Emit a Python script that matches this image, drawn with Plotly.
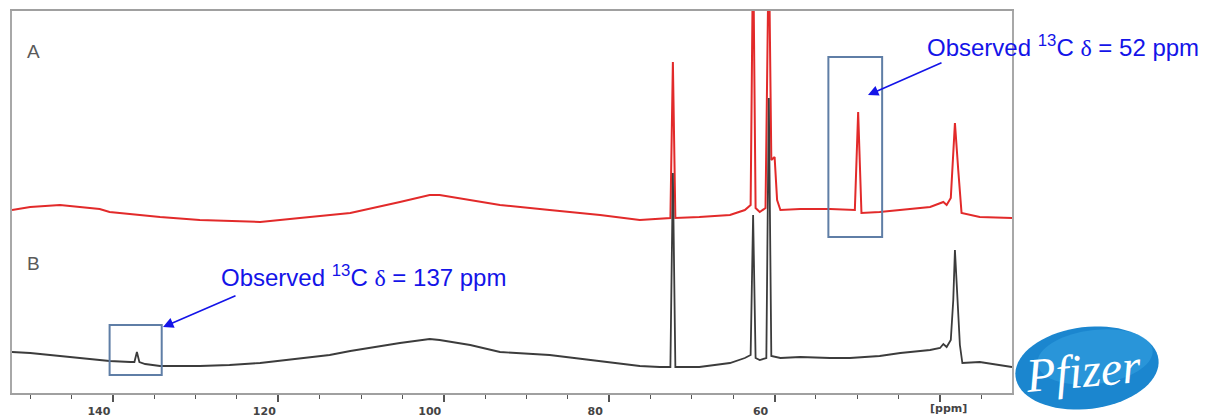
import math
import plotly.graph_objects as go

# ---------------- data ----------------
# Spectrum A (red): chemical shift (ppm) and intensity (arbitrary units)
ppm_a = [152.2, 150.0, 146.4, 141.6, 140.4, 134.3, 129.5, 122.2, 117.4, 111.3,
         105.3, 101.7, 100.5, 96.8, 93.2, 87.2, 81.1, 76.3, 73.9, 72.6,
         72.3, 72.0, 69.1, 65.4, 63.6, 62.9, 62.6, 62.3, 61.8, 61.1,
         60.7, 60.4, 60.0, 59.7, 59.3, 56.9, 53.3, 50.9, 50.3, 49.9,
         49.5, 47.3, 44.8, 41.2, 39.6, 39.2, 38.7, 38.2, 37.8, 37.4,
         35.2, 31.3]
int_a = [13, 16, 18, 14, 11, 6, 3, 1, 5, 10,
         21, 28, 28, 23, 18, 13, 8, 3, 4, 5,
         161, 5, 6, 8, 13, 18, 283, 15, 11, 15,
         283, 63, 66, 23, 13, 14, 14, 13, 13, 111,
         10, 11, 13, 16, 21, 18, 25, 100, 53, 10,
         6, 5]

# Spectrum B (black): chemical shift (ppm) and intensity (arbitrary units)
ppm_b = [152.2, 150.0, 146.4, 141.6, 140.4, 137.9, 137.4, 137.1, 136.8, 136.1,
         134.3, 129.5, 125.9, 122.2, 117.4, 113.8, 111.3, 107.7, 105.3, 101.7,
         100.5, 96.8, 93.2, 87.2, 81.1, 76.3, 73.9, 72.6, 72.3, 72.0,
         69.1, 65.4, 63.6, 62.9, 62.6, 62.3, 61.8, 61.0, 60.7, 60.4,
         59.3, 56.9, 53.3, 50.9, 47.3, 44.8, 41.2, 40.0, 39.6, 39.2,
         38.7, 38.4, 38.2, 37.9, 37.6, 37.3, 35.2, 31.3]
int_b = [41, 40, 37, 33, 32, 31, 31, 41, 31, 29,
         27, 27, 28, 30, 35, 38, 42, 47, 50, 54,
         53, 48, 41, 38, 32, 27, 26, 26, 220, 26,
         26, 30, 35, 38, 178, 35, 33, 35, 295, 37,
         35, 36, 35, 35, 37, 40, 43, 45, 49, 46,
         53, 93, 143, 93, 48, 30, 31, 26]

tick_vals = [140, 120, 100, 80, 60, 40]
tick_text = ["140", "120", "100", "80", "60", ""]
unit_label = "[ppm]"
trace_labels = ["A", "B"]
note_a = "Observed <sup>13</sup>C <span style='font-family:Liberation Serif'>δ</span> = 52 ppm"
note_b = "Observed <sup>13</sup>C <span style='font-family:Liberation Serif'>δ</span> = 137 ppm"
logo_text = "Pfizer"

# ---------------- layout geometry ----------------
W, H = 1205, 419
X0, X1, Y0, Y1 = 12, 1012, 11, 393          # plot area in pixels
OFFSET_A = 170                              # vertical stacking offset of spectrum A


def px(x):
    return (x - X0) / (X1 - X0)


def py(y):
    return (Y1 - y) / (Y1 - Y0)


fig = go.Figure()
fig.add_trace(go.Scatter(x=ppm_a, y=[v + OFFSET_A for v in int_a], mode="lines",
                         line=dict(color="#e22a2a", width=2), showlegend=False,
                         hoverinfo="skip"))
fig.add_trace(go.Scatter(x=ppm_b, y=int_b, mode="lines",
                         line=dict(color="#3c3c3c", width=1.8), showlegend=False,
                         hoverinfo="skip"))

shapes = []
box_col = "#5f7ea6"
shapes.append(dict(type="rect", xref="x", yref="y", x0=53.5, x1=47.0, y0=156, y1=336,
                   line=dict(color=box_col, width=2)))
shapes.append(dict(type="rect", xref="x", yref="y", x0=140.4, x1=134.1, y0=18, y1=68,
                   line=dict(color=box_col, width=2)))


# Pfizer logo ellipse (rotated)
def ellipse_path(cx, cy, a, b, deg):
    th = math.radians(deg)
    pts = []
    for k in range(0, 73):
        t = 2 * math.pi * k / 72
        xe = cx + a * math.cos(t) * math.cos(th) - b * math.sin(t) * math.sin(th)
        ye = cy + a * math.cos(t) * math.sin(th) + b * math.sin(t) * math.cos(th)
        pts.append(f"{px(xe):.5f},{py(ye):.5f}")
    return "M " + " L ".join(pts) + " Z"


shapes.append(dict(type="path", xref="paper", yref="paper",
                   path=ellipse_path(1087, 368, 72, 41, -7),
                   fillcolor="#1b86cf", line=dict(width=0), layer="above"))
shapes.append(dict(type="path", xref="paper", yref="paper",
                   path=ellipse_path(1095, 357, 58, 27, -7),
                   fillcolor="#35a2e2", opacity=0.55, line=dict(width=0), layer="above"))

ann = []
blue = "#1414e8"
txt_font = dict(family="Liberation Sans, Arial, sans-serif", size=24, color=blue)
ann.append(dict(xref="paper", yref="paper", x=px(925), y=py(46), xanchor="left",
                yanchor="middle", text=note_a, showarrow=False, font=txt_font))
ann.append(dict(xref="paper", yref="paper", x=px(219), y=py(276), xanchor="left",
                yanchor="middle", text=note_b, showarrow=False, font=txt_font))
# arrows
ann.append(dict(xref="paper", yref="paper", x=px(868), y=py(95), ax=75, ay=-33,
                text="", showarrow=True, arrowhead=2, arrowsize=1.3, arrowwidth=1.6,
                arrowcolor=blue))
ann.append(dict(xref="paper", yref="paper", x=px(163), y=py(327), ax=74, ay=-32,
                text="", showarrow=True, arrowhead=2, arrowsize=1.3, arrowwidth=1.6,
                arrowcolor=blue))
# trace labels
lab_font = dict(family="Liberation Sans, Arial, sans-serif", size=19, color="#5a5a5a")
ann.append(dict(xref="paper", yref="paper", x=px(33), y=py(52), text=trace_labels[0],
                showarrow=False, font=lab_font, xanchor="center", yanchor="middle"))
ann.append(dict(xref="paper", yref="paper", x=px(33), y=py(263), text=trace_labels[1],
                showarrow=False, font=lab_font, xanchor="center", yanchor="middle"))
# unit label
tick_font = dict(family="DejaVu Sans, sans-serif", size=11, color="#444444")
ann.append(dict(xref="paper", yref="paper", x=px(948), y=py(408), text="<b>" + unit_label + "</b>",
                showarrow=False, font=tick_font, xanchor="center", yanchor="middle"))
# logo text
ann.append(dict(xref="paper", yref="paper", x=px(1083), y=py(370), text="<i>" + logo_text + "</i>",
                showarrow=False, textangle=-5,
                font=dict(family="Liberation Serif, serif", size=48, color="white"),
                xanchor="center", yanchor="middle"))

fig.update_layout(
    width=W, height=H,
    margin=dict(l=X0, r=W - X1, t=Y0, b=H - Y1, pad=0, autoexpand=False),
    paper_bgcolor="white", plot_bgcolor="white",
    shapes=shapes, annotations=ann, showlegend=False,
    xaxis=dict(range=[152.2, 31.3], tickvals=tick_vals, ticktext=tick_text,
               automargin=False,
               ticks="outside", ticklen=7, tickwidth=1.5, tickcolor="#555555",
               ticklabelshift=14, ticklabelstandoff=0,
               tickfont=dict(family="DejaVu Sans, sans-serif", size=11, color="#444444", weight="bold"),
               minor=dict(dtick=5, tick0=0, ticks="outside", ticklen=4, tickwidth=1.2,
                          tickcolor="#555555", showgrid=False),
               showgrid=False, zeroline=False, showline=True, linecolor="#a0a0a0",
               linewidth=2, mirror=True),
    yaxis=dict(range=[0, Y1 - Y0], showticklabels=False, ticks="", showgrid=False,
               automargin=False,
               zeroline=False, showline=True, linecolor="#a8a8a8", linewidth=2, mirror=True),
)

fig.write_html("out.html", config={"displayModeBar": False},
               post_script="document.body.style.margin='0px';document.body.style.overflow='hidden';")
